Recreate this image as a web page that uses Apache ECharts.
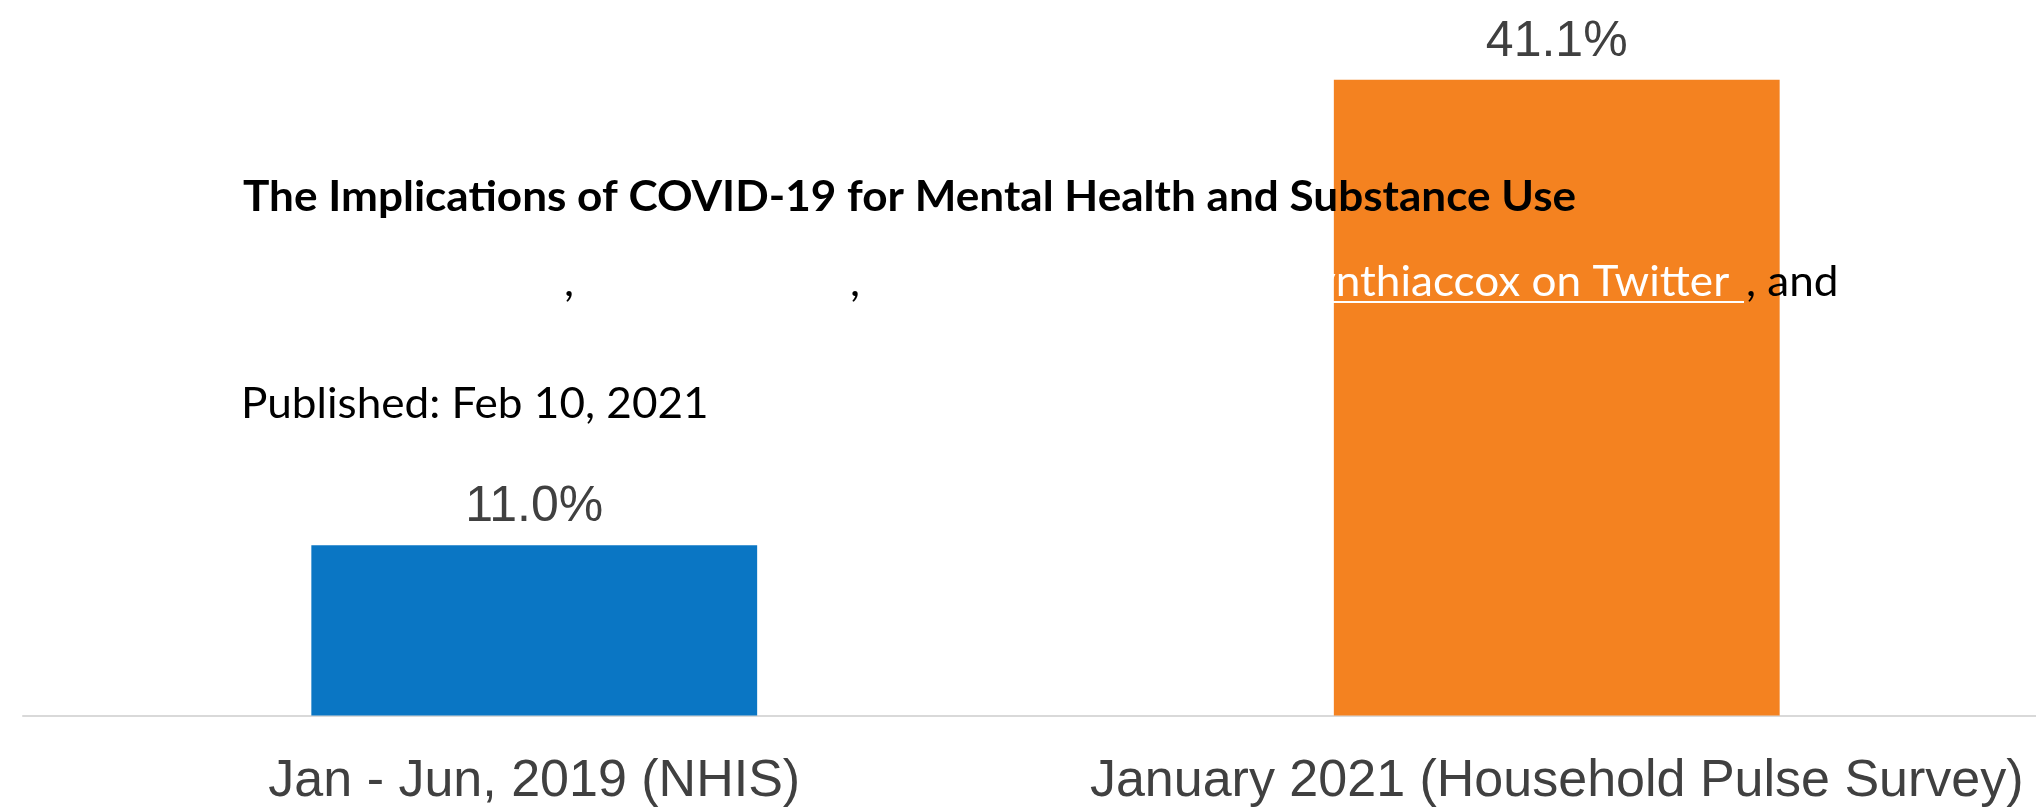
<!DOCTYPE html>
<html>
<head>
<meta charset="utf-8">
<title>The Implications of COVID-19 for Mental Health and Substance Use</title>
<script src="https://cdn.jsdelivr.net/npm/echarts@6/dist/echarts.min.js"></script>
<style>
  html, body { margin: 0; padding: 0; background: #ffffff; }
  #chart { width: 2036px; height: 808px; }
</style>
</head>
<body>
<div id="chart"></div>
<script>
// Survey periods and share of adults reporting symptoms (%)
const categories = ['Jan - Jun, 2019 (NHIS)', 'January 2021 (Household Pulse Survey)'];
const values = [11.0, 41.1];

// Article header text
const titleText = 'The Implications of COVID-19 for Mental Health and Substance Use';
const publishedText = 'Published: Feb 10, 2021';
const linkText = 'ynthiaccox on Twitter ';
const tailText = ', and';

const palette = ['#0a76c4', '#f48220'];
const labelGray = '#404040';

const chart = echarts.init(document.getElementById('chart'), null, { renderer: 'canvas' });

const headerFont = 'Lato';
const headerScale = 1.05;

function headerText(text, x, y, weight, color) {
  return {
    type: 'text', z: 100, x: x, y: y, scaleX: headerScale,
    style: {
      text: text,
      font: (weight ? weight + ' ' : '') + '42px ' + headerFont,
      fill: color,
      align: 'left',
      verticalAlign: 'middle'
    }
  };
}

chart.setOption({
  backgroundColor: '#ffffff',
  animation: false,
  // the plot runs a little past the right edge of the page
  grid: {
    left: 23, width: 2045, top: 19.5, bottom: 92.5,
    containLabel: false,
    outerBoundsMode: 'none'
  },
  xAxis: {
    type: 'category',
    data: categories,
    axisTick: { show: false },
    axisLine: { show: true, lineStyle: { color: '#d9d9d9', width: 2 } },
    axisLabel: {
      interval: 0,
      margin: 40,
      color: labelGray,
      fontFamily: 'Liberation Sans',
      fontSize: 52
    }
  },
  yAxis: {
    type: 'value',
    min: 0,
    max: 45,
    show: false,
    splitLine: { show: false }
  },
  series: [{
    type: 'bar',
    barWidth: '43.6%',
    data: values.map((v, i) => ({ value: v, itemStyle: { color: palette[i] } })),
    label: {
      show: true,
      position: 'top',
      distance: 13,
      color: labelGray,
      fontFamily: 'Liberation Sans',
      fontSize: 50,
      formatter: p => p.value.toFixed(1) + '%'
    }
  }],
  graphic: [
    headerText(titleText, 243, 197, 'bold', '#000000'),
    headerText(',', 564, 282, '', '#000000'),
    headerText(',', 850, 282, '', '#000000'),
    {
      type: 'group', z: 100,
      children: [
        headerText(linkText, 1313, 282, '', '#ffffff'),
        {
          type: 'rect', z: 100,
          shape: { x: 1300, y: 301, width: 444, height: 2 },
          style: { fill: '#ffffff' }
        }
      ]
    },
    headerText(tailText, 1746, 282, '', '#000000'),
    headerText(publishedText, 241, 404, '', '#000000')
  ]
});
</script>
</body>
</html>
